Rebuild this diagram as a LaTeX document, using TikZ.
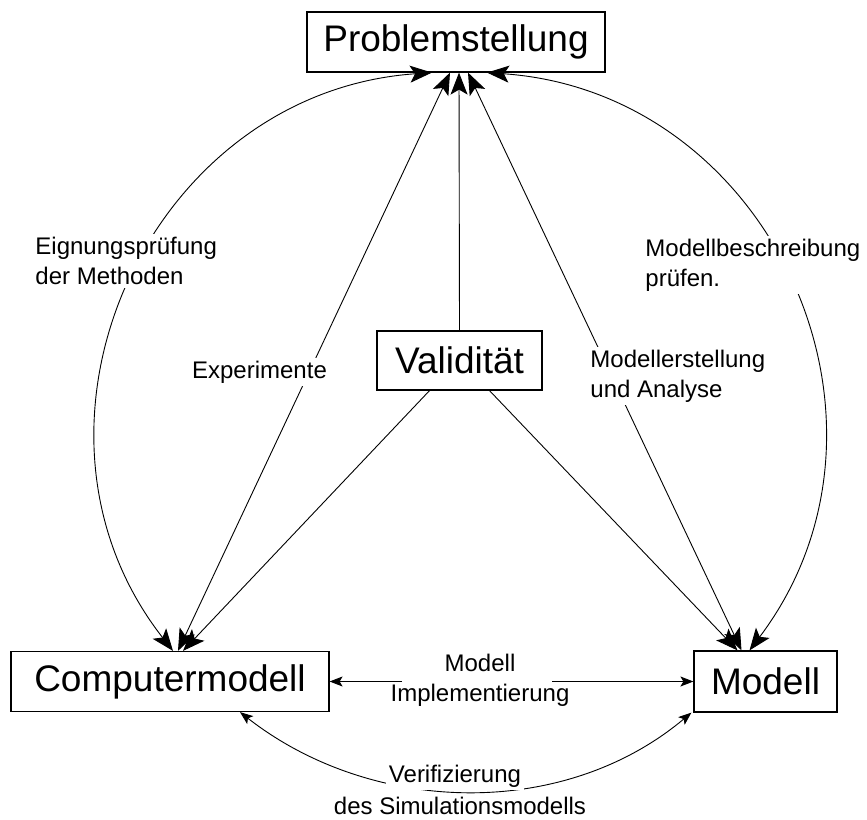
\documentclass[tikz,border=0pt]{standalone}
\usepackage{fontspec}
\setmainfont{Liberation Sans}
\usetikzlibrary{arrows.meta}
\tikzstyle{box} = [rectangle, draw, line width=1.2pt, inner sep=0pt, font=\fontsize{37}{40}\selectfont]
\tikzstyle{lbl} = [fill=white, inner sep=3pt, font=\fontsize{24}{30}\selectfont]
\tikzstyle{smallhead} = [>={Stealth[length=13pt,width=10pt,inset=3pt]}]

\begin{document}
\begin{tikzpicture}[x=1pt,y=1pt,line width=0.9pt,>={Stealth[length=22pt,width=17pt,inset=5pt]}]
  \useasboundingbox (0,0) rectangle (867,-819);

  \node[box, minimum width=298pt, minimum height=60pt] (P) at (456,-42) {Problemstellung};
  \node[box, minimum width=165pt, minimum height=59pt] (V) at (459.5,-360.5) {Validität};
  \node[box, minimum width=318pt, minimum height=60pt] (C) at (170,-681.5) {Computermodell};
  \node[box, minimum width=143pt, minimum height=61pt] (M) at (765.5,-681.5) {Modell};

  \coordinate (implL) at (402,-681.5);
  \coordinate (implR) at (552,-681.5);

  % outer arcs
  \draw[<->] ([xshift=-24pt]P.south) to[out=184,in=128,looseness=1.15] ([xshift=3pt]C.north);
  \draw[<->] ([xshift=31pt]P.south) to[out=-4,in=53,looseness=1.15] ([xshift=-16pt]M.north);
  \draw[<->,smallhead] ([xshift=70pt]C.south) to[out=-38,in=220,looseness=0.95] ([xshift=-2pt]M.south west);

  % straight lines
  \draw[<->] ([xshift=-6pt]P.south) -- ([xshift=8pt]C.north);
  \draw[<->] ([xshift=12pt]P.south) -- ([xshift=-24pt]M.north);
  \draw[->] (V.north) -- ([xshift=3pt]P.south);
  \draw[->] ([xshift=-30pt]V.south) -- ([xshift=13pt]C.north);
  \draw[->] ([xshift=30pt]V.south) -- ([xshift=-28pt]M.north);
  \draw[->,smallhead] (implL) -- (C.east);
  \draw[->,smallhead] (implR) -- (M.west);

  % labels
  \node[lbl, align=left, anchor=west] (eign) at (32,-261) {Eignungsprüfung\\der Methoden};
  \node[lbl, align=left, anchor=west] (beschr) at (642,-265) {Modellbeschreibung\\prüfen.};
  \node[lbl] (exp) at (259.5,-372) {Experimente};
  \node[lbl, align=left, anchor=west] (erst) at (587,-376) {Modellerstellung\\und Analyse};
  \node[lbl, fill=none, align=center] (impl) at (480,-680) {Modell\\Implementierung};
  \node[lbl] (verif) at (455,-776) {Verifizierung};
  \node[lbl, fill=none] (sim) at (460,-806) {des Simulationsmodells};
\end{tikzpicture}
\end{document}
